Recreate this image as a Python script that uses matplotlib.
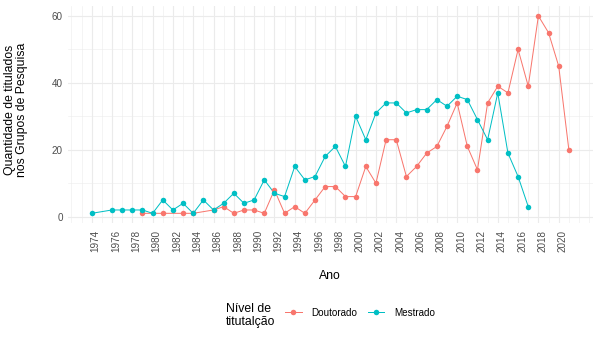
import matplotlib
matplotlib.use('Agg')
import matplotlib.pyplot as plt
from matplotlib.lines import Line2D
from matplotlib.transforms import ScaledTranslation

plt.rcParams['font.family'] = ['Liberation Sans', 'DejaVu Sans']

# Doutorado
anos_dout = [1979, 1981, 1983, 1984, 1986, 1987, 1988, 1989, 1990, 1991, 1992, 1993, 1994,
             1995, 1996, 1997, 1998, 1999, 2000, 2001, 2002, 2003, 2004, 2005, 2006, 2007,
             2008, 2009, 2010, 2011, 2012, 2013, 2014, 2015, 2016, 2017, 2018, 2019, 2020, 2021]
qtd_dout = [1, 1, 1, 1, 2, 3, 1, 2, 2, 1, 8, 1, 3,
            1, 5, 9, 9, 6, 6, 15, 10, 23, 23, 12, 15, 19,
            21, 27, 34, 21, 14, 34, 39, 37, 50, 39, 60, 55, 45, 20]

# Mestrado
anos_mest = [1974, 1976, 1977, 1978, 1979, 1980, 1981, 1982, 1983, 1984, 1985, 1986, 1987,
             1988, 1989, 1990, 1991, 1992, 1993, 1994, 1995, 1996, 1997, 1998, 1999, 2000,
             2001, 2002, 2003, 2004, 2005, 2006, 2007, 2008, 2009, 2010, 2011, 2012, 2013,
             2014, 2015, 2016, 2017]
qtd_mest = [1, 2, 2, 2, 2, 1, 5, 2, 4, 1, 5, 2, 4,
            7, 4, 5, 11, 7, 6, 15, 11, 12, 18, 21, 15, 30,
            23, 31, 34, 34, 31, 32, 32, 35, 33, 36, 35, 29, 23,
            37, 19, 12, 3]

x_breaks = list(range(1974, 2021, 2))
y_breaks = [0, 20, 40, 60]

c_dout = '#F8766D'
c_mest = '#00BFC4'
grid = '#EBEBEB'

fig = plt.figure(figsize=(599 / 72, 342 / 72), dpi=72)
ax = fig.add_axes([0.1132, 0.3474, 0.8763, 0.6348])

ax.plot(anos_dout, qtd_dout, color=c_dout, lw=1.0, zorder=2)
ax.plot(anos_mest, qtd_mest, color=c_mest, lw=1.0, zorder=2)
ax.plot(anos_dout, qtd_dout, 'o', color=c_dout, ms=5.5, mew=0, zorder=3)
ax.plot(anos_mest, qtd_mest, 'o', color=c_mest, ms=5.5, mew=0, zorder=3)

ax.set_xlim(1971.65, 2023.35)
ax.set_ylim(-1.95, 62.95)
ax.set_xticks(x_breaks)
ax.set_xticks(range(1972, 2024), minor=True)
ax.set_yticks(y_breaks)
ax.set_yticks([10, 30, 50], minor=True)
ax.grid(which='major', color=grid, lw=1.1, zorder=0)
ax.grid(which='minor', color=grid, lw=0.55, zorder=0)
ax.set_axisbelow(True)
for s in ax.spines.values():
    s.set_visible(False)
ax.tick_params(which='both', length=0)
ax.tick_params(axis='y', labelsize=9.9, labelcolor='#4D4D4D', pad=5)
ax.tick_params(axis='x', labelsize=9.9, labelcolor='#4D4D4D', pad=7, labelrotation=90)
for lab in ax.get_xticklabels():
    lab.set_transform(lab.get_transform() + ScaledTranslation(4 / 72, 0, fig.dpi_scale_trans))

ax.set_xlabel('Ano', fontsize=12.3, labelpad=18)
fig.text(16.5 / 599, 1 - 110 / 342, 'Quantidade de titulados\nnos Grupos de Pesquisa',
         fontsize=12.3, rotation=90, ha='center', va='center', linespacing=1.0)

fig.text(226 / 599, 1 - 315.5 / 342, 'Nível de\ntitutalção', fontsize=12.3,
         ha='left', va='center', linespacing=1.0)
handles = [Line2D([], [], color=c_dout, lw=1.0, marker='o', ms=5.5, mew=0),
           Line2D([], [], color=c_mest, lw=1.0, marker='o', ms=5.5, mew=0)]
fig.legend(handles, ['Doutorado', 'Mestrado'], loc='center left',
           bbox_to_anchor=(285 / 599, 1 - 312.7 / 342), ncol=2, frameon=False,
           fontsize=9.9, handlelength=1.7, handletextpad=1.0, columnspacing=1.0,
           borderpad=0, borderaxespad=0)

fig.savefig('out.png', dpi=72)
